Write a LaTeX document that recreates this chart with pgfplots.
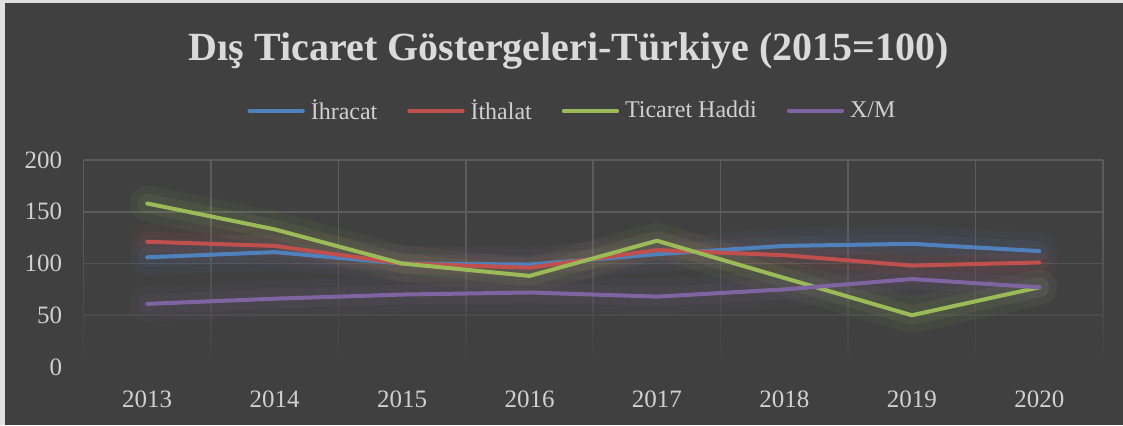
\documentclass[border=0pt]{standalone}
\usepackage{fontspec}
\setmainfont{Liberation Serif}
\usepackage{pgfplots}
\pgfplotsset{compat=1.18}
\usepackage{pgfplotstable}
\usetikzlibrary{fadings}

\definecolor{bg}{HTML}{404040}
\definecolor{gridc}{HTML}{5C5C5C}
\definecolor{txt}{HTML}{D0D0D0}
\definecolor{cIhr}{HTML}{4F81BD}
\definecolor{cIth}{HTML}{C0504D}
\definecolor{cTH}{HTML}{9BBB59}
\definecolor{cXM}{HTML}{8064A2}

\pgfplotstableread{
x  year ihr ith th  xm
0  2013 106 121 158 61
1  2014 111 117 133 66
2  2015 100 100 100 70
3  2016 99  96  88  72
4  2017 109 113 122 68
5  2018 117 108 86  75
6  2019 119 98  50  85
7  2020 112 101 77  77
}\data

\pgfplotsset{
  base/.style={
    at={(41.75pt,29pt)}, anchor=south west,
    scale only axis, width=509.75pt, height=103.5pt,
    xmin=-0.5, xmax=7.5, ymin=0, ymax=200,
    xtick={0,...,7},
    xticklabels={2013,2014,2015,2016,2017,2018,2019,2020},
    ytick={0,50,...,200},
    minor xtick={-0.5,0.5,...,7.5},
    axis line style={draw=none},
    major tick style={draw=none}, minor tick style={draw=none},
    tick label style={font=\fontsize{12.5}{14}\selectfont, text=txt, inner sep=0pt},
    /pgf/number format/assume math mode=true,
    xticklabel style={anchor=north, yshift=-11.5pt},
    yticklabel style={anchor=east, xshift=-10.5pt},
  },
  glowA/.style={forget plot, line width=18pt, opacity=0.06, line join=round, line cap=round},
  glowB/.style={forget plot, line width=10pt, opacity=0.09, line join=round, line cap=round},
  main/.style={line width=2pt, line join=round, line cap=round},
}

\begin{document}
\begin{tikzpicture}
\fill[bg] (0,0) rectangle (561.5pt,212.5pt);
\fill[black!12] (0,0) rectangle (2.5pt,212.5pt);
\fill[black!12] (0,211pt) rectangle (561.5pt,212.5pt);

% grid axis
\begin{axis}[base,
  ymajorgrids, minor x grid style={gridc, line width=0.8pt},
  xminorgrids, major grid style={gridc, line width=0.8pt}]
\end{axis}

% fade the lower part of the grid
\fill[bg, path fading=north] (41.5pt,28pt) rectangle (552pt,100pt);

% data axis
\begin{axis}[base, hide axis,
  legend columns=4,
  legend style={at={(0.4806,1.237)}, anchor=center, draw=none, fill=none,
    font=\fontsize{12}{14}\selectfont, text=txt,
    /tikz/every even column/.append style={column sep=13pt},
    /tikz/every odd column/.append style={column sep=1pt}},
  legend image code/.code={\draw[#1, line width=1.6pt] (0pt,0pt) -- (27pt,0pt);},
]
\addplot[glowA, cIhr] table[x=x, y=ihr] {\data};
\addplot[glowB, cIhr] table[x=x, y=ihr] {\data};
\addplot[glowA, cIth] table[x=x, y=ith] {\data};
\addplot[glowB, cIth] table[x=x, y=ith] {\data};
\addplot[glowA, cTH] table[x=x, y=th] {\data};
\addplot[glowB, cTH] table[x=x, y=th] {\data};
\addplot[glowA, cXM] table[x=x, y=xm] {\data};
\addplot[glowB, cXM] table[x=x, y=xm] {\data};

\addplot[main, cIhr] table[x=x, y=ihr] {\data};
\addplot[main, cIth] table[x=x, y=ith] {\data};
\addplot[main, cTH] table[x=x, y=th] {\data};
\addplot[main, cXM] table[x=x, y=xm] {\data};
\legend{İhracat, İthalat, Ticaret Haddi, X/M}
\end{axis}

\node[anchor=base, text=txt!80!white, font=\fontsize{20}{23}\selectfont\bfseries]
  at (284.5pt,182.5pt) {Dış Ticaret Göstergeleri-Türkiye (2015=100)};

\pgfresetboundingbox
\useasboundingbox (0,0) rectangle (561.5pt,212.5pt);
\end{tikzpicture}
\end{document}
